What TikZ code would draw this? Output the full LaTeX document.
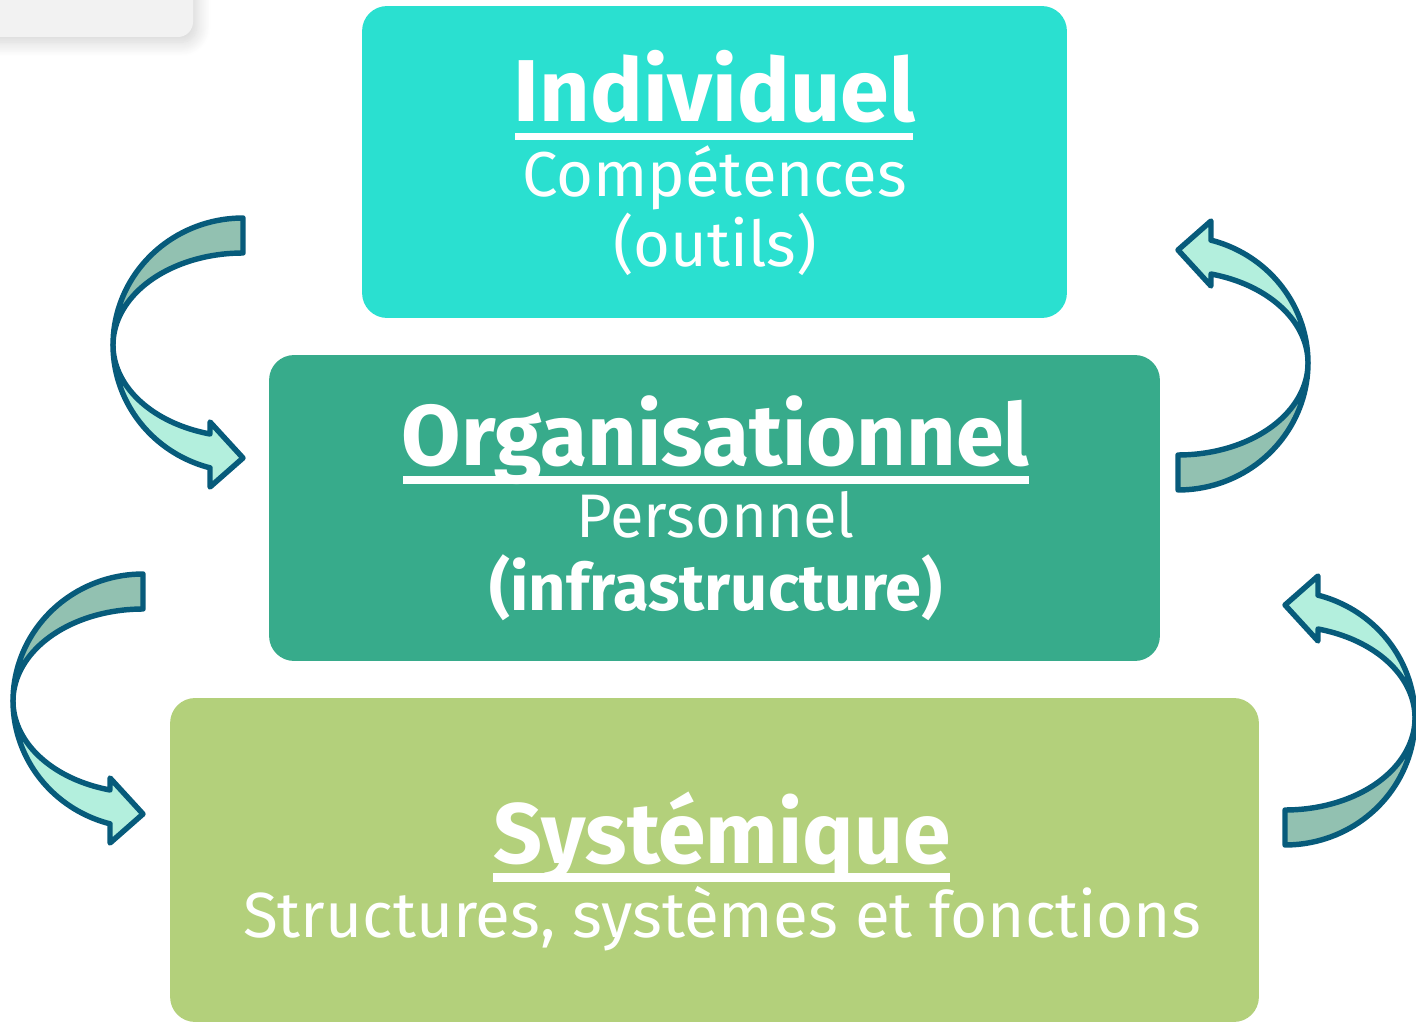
\documentclass[tikz,border=0pt]{standalone}
\usepackage{fontspec}
\setmainfont{Fira Sans}
\usetikzlibrary{shadows.blur}
\definecolor{cInd}{HTML}{2AE0D0}
\definecolor{cOrg}{HTML}{37AB8B}
\definecolor{cSys}{HTML}{B3D07B}
\definecolor{arDark}{HTML}{92C1B1}
\definecolor{arLight}{HTML}{B3EFDD}
\definecolor{arLine}{HTML}{075B7B}
\definecolor{ghost}{HTML}{F2F2F2}
\tikzset{
  box/.style={rounded corners=0.5cm, inner sep=0pt, draw=none},
  ttl/.style={anchor=base, inner sep=0pt, text=white, font=\bfseries\fontsize{50}{60}\selectfont},
  sub/.style={anchor=base, inner sep=0pt, text=white, font=\fontsize{36}{44}\selectfont},
  subb/.style={anchor=base, inner sep=0pt, text=white, font=\bfseries\fontsize{37}{44}\selectfont},
  uline/.style={fill=white},
  arrowpart/.style={draw=arLine, line width=3.1pt, line join=round},
}
\newcommand\myCurvArrow{%
  % back (dark) half
  \draw[arrowpart, fill=arDark]
    plot[domain=-90:-180, samples=40] ({243+130*cos(\x)}, {345+127*sin(\x)})
    -- plot[domain=-180:-90, samples=40] ({243+130*cos(\x)}, {345+92*sin(\x)})
    -- cycle;
  % front (light) half with head
  \draw[arrowpart, fill=arLight]
    plot[domain=180:104.7, samples=40] ({243+130*cos(\x)}, {345+127*sin(\x)})
    -- (210,487) -- (243,458) -- (210,422)
    -- plot[domain=104.7:180, samples=40] ({243+130*cos(\x)}, {345+92*sin(\x)})
    -- cycle;
}
\begin{document}
\begin{tikzpicture}[x=0.02cm, y=-0.02cm]
\useasboundingbox (0,0) rectangle (1416,1023);
% faint card in the corner
\fill[ghost, rounded corners=0.3cm, blur shadow={shadow xshift=2pt, shadow yshift=-3pt, shadow blur steps=16, shadow blur radius=8pt, shadow opacity=18}] (-40,-40) rectangle (193,37);

% boxes
\node[box, fill=cInd, minimum width=14.1cm, minimum height=6.24cm] (ind) at (714.5,162) {};
\node[box, fill=cOrg, minimum width=17.82cm, minimum height=6.12cm] (org) at (714.5,508) {};
\node[box, fill=cSys, minimum width=21.78cm, minimum height=6.48cm] (sys) at (714.5,860) {};

% texts
\node[ttl] (indT) at (714.5,122) {Individuel};
\fill[uline] (515,133) rectangle (913,140);
\node[sub, font=\fontsize{36.1}{44}\selectfont] (indA) at (714.5,197) {Compétences};
\node[sub] (indB) at (715,267) {(outils)};

\node[ttl, font=\bfseries\fontsize{49}{60}\selectfont] (orgT) at (715.5,466) {Organisationnel};
\fill[uline] (403,476) rectangle (1029,484);
\node[sub, font=\fontsize{35}{44}\selectfont] (orgA) at (715.5,538) {Personnel};
\node[subb] (orgB) at (716,610) {(infrastructure)};

\node[ttl, font=\bfseries\fontsize{48.8}{60}\selectfont] (sysT) at (722,863) {Systémique};
\fill[uline] (493,873) rectangle (950,882);
\node[sub, font=\fontsize{36.3}{44}\selectfont] (sysA) at (722,937) {Structures, systèmes et fonctions};

% curved arrows
\begin{scope}\myCurvArrow\end{scope}
\begin{scope}[shift={(-100,356)}]\myCurvArrow\end{scope}
\begin{scope}[rotate around={180:(710.5,354)}]\myCurvArrow\end{scope}
\begin{scope}[shift={(107,355)}]\begin{scope}[rotate around={180:(710.5,354)}]\myCurvArrow\end{scope}\end{scope}
\end{tikzpicture}
\end{document}
